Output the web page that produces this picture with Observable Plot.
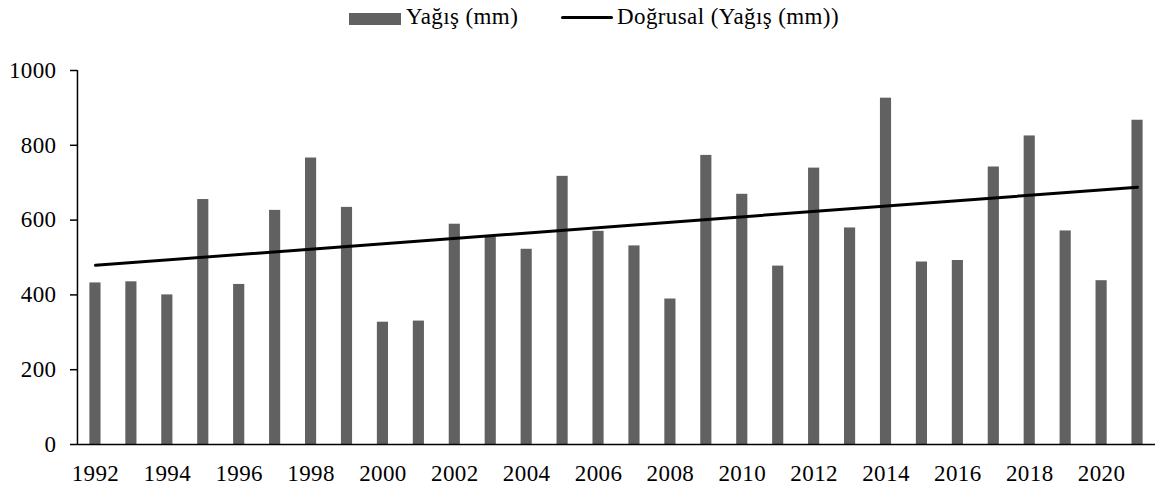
<!DOCTYPE html>
<html>
<head>
<meta charset="utf-8">
<script src="https://cdn.jsdelivr.net/npm/d3@7"></script>
<script src="https://cdn.jsdelivr.net/npm/@observablehq/plot@0.6"></script>
<style>
  html, body { margin: 0; padding: 0; background: #fff; overflow: hidden; }
  #wrap { position: relative; width: 1155px; font-family: "Liberation Serif", "DejaVu Serif", serif; }
  #legend { position: relative; height: 40px; font-size: 23px; color: #000; letter-spacing: 0.4px; }
  .sw { position: absolute; left: 349px; top: 13px; width: 52px; height: 12px; background: #616161; }
  .ln { position: absolute; left: 561px; top: 16px; width: 52px; height: 3px; background: #000; border-radius: 2px; }
  .t1 { position: absolute; left: 406px; top: 4px; line-height: 26px; white-space: nowrap; }
  .t2 { position: absolute; left: 617px; top: 4px; line-height: 26px; white-space: nowrap; }
  #chart svg { display: block; }
  #chart svg text { letter-spacing: 0.4px; }
</style>
</head>
<body>
<div id="wrap">
  <div id="legend">
    <div class="sw"></div><span class="t1">Yağış (mm)</span>
    <div class="ln"></div><span class="t2">Doğrusal (Yağış (mm))</span>
  </div>
  <div id="chart"></div>
</div>
<script>
const years = [1992,1993,1994,1995,1996,1997,1998,1999,2000,2001,2002,2003,2004,2005,2006,2007,2008,2009,2010,2011,2012,2013,2014,2015,2016,2017,2018,2019,2020,2021];
const rainfall = [432,435,400,655,428,626,766,634,327,330,589,554,522,717,570,531,389,773,669,477,739,579,926,488,492,742,825,571,438,867];
const trendYears = [1992, 2021];
const trendValues = [479, 688];
const yTicks = [0,200,400,600,800,1000];
const xTicks = [1992,1994,1996,1998,2000,2002,2004,2006,2008,2010,2012,2014,2016,2018,2020];

const bars = years.map((year, i) => ({year, value: rainfall[i]}));
const trend = trendYears.map((year, i) => ({year, value: trendValues[i]}));

const chart = Plot.plot({
  width: 1155,
  height: 447,
  marginTop: 30,
  marginBottom: 43,
  marginLeft: 77,
  marginRight: 0,
  style: {fontFamily: '"Liberation Serif", "DejaVu Serif", serif', fontSize: "23px", color: "#000", background: "#fff"},
  x: {type: "band", domain: years, paddingInner: 0.69, paddingOuter: 0.345, round: false, label: null},
  y: {domain: [0, 1000], label: null},
  marks: [
    Plot.barY(bars, {x: "year", y: "value", fill: "#616161"}),
    Plot.ruleY([0], {stroke: "#000", strokeWidth: 1.5}),
    Plot.ruleX([years[0]], {dx: -18, y1: 0, y2: 1000, stroke: "#000", strokeWidth: 1.5}),
    Plot.line(trend, {x: "year", y: "value", stroke: "#000", strokeWidth: 3, strokeLinecap: "round"}),
    Plot.axisY({ticks: yTicks, tickSize: 7, tickPadding: 14, tickFormat: d => String(d), fontSize: 23, strokeWidth: 1.5}),
    Plot.axisX({ticks: xTicks, tickSize: 0, tickPadding: 20, tickFormat: d => String(d), fontSize: 23})
  ]
});
document.getElementById("chart").appendChild(chart);
</script>
</body>
</html>
